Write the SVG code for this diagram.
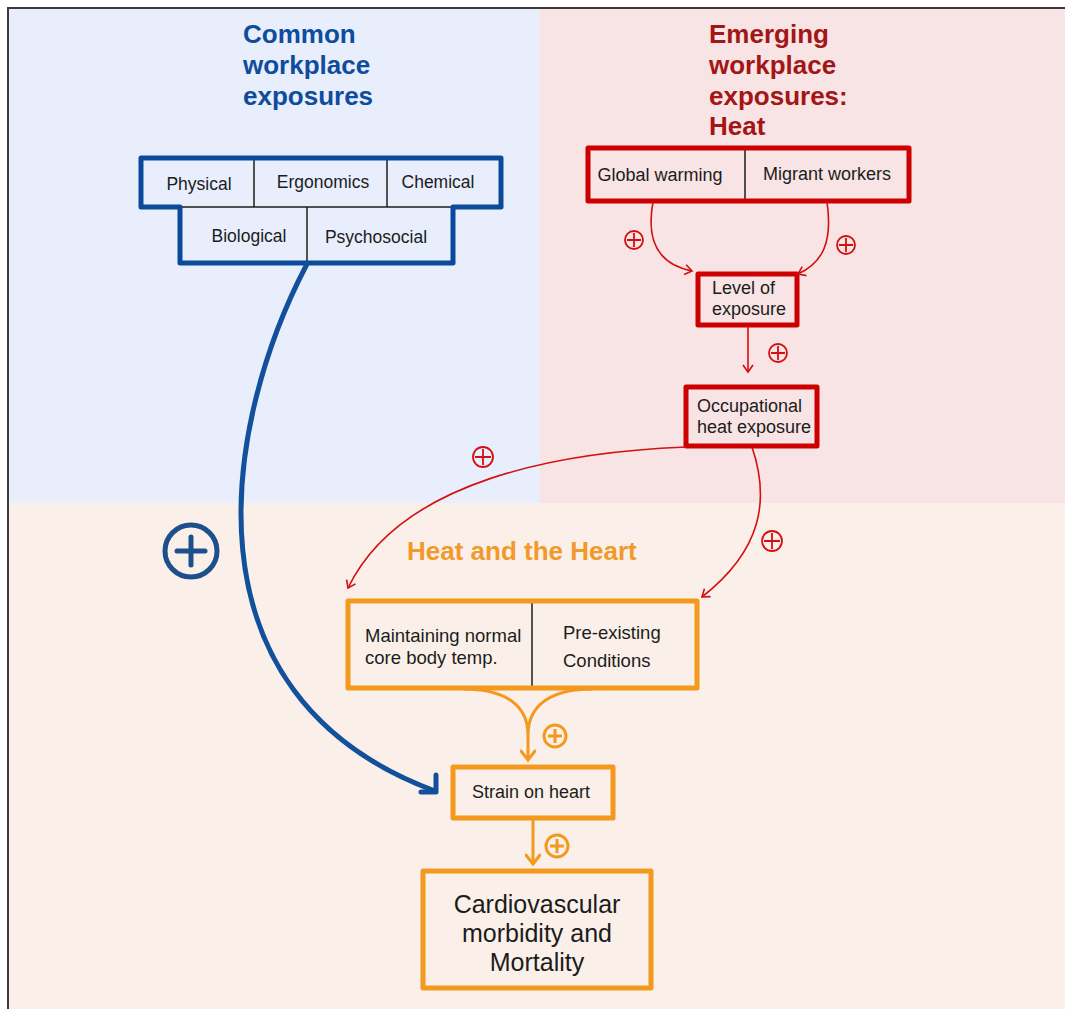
<svg xmlns="http://www.w3.org/2000/svg" width="1065" height="1009" viewBox="0 0 1065 1009">
<defs>
<style>
text{font-family:"Liberation Sans",Arial,sans-serif;fill:#1c1c1c}
.t{font-size:17.5px}
.t18{font-size:18px}
.title{font-size:26px;font-weight:bold}
.blue{fill:#0f4c9c}
.red{fill:#a31616}
.orange{fill:#f2992a}
.bbox{fill:none;stroke:#0b4a9b;stroke-width:5;stroke-linejoin:round}
.rbox{fill:none;stroke:#cc0000;stroke-width:5;stroke-linejoin:round}
.obox{fill:none;stroke:#f39a1e;stroke-width:5;stroke-linejoin:round}
.div{stroke:#1c1c1c;stroke-width:1.5}
.rline{fill:none;stroke:#d40f0f;stroke-width:1.6}
.oline{fill:none;stroke:#f39a1e;stroke-width:3}
.bline{fill:none;stroke:#13509b;stroke-width:5;stroke-linecap:round;stroke-linejoin:round}
.rplus{fill:none;stroke:#d40f0f;stroke-width:1.8}
.oplus{fill:none;stroke:#f39a1e;stroke-width:3}
.bplus{fill:none;stroke:#1c4f8c;stroke-width:5;stroke-linecap:round}
</style>
<marker id="arrR" viewBox="0 0 12 12" refX="10" refY="6" markerWidth="12" markerHeight="12" markerUnits="userSpaceOnUse" orient="auto">
<path d="M3,1 L10,6 L3,11" fill="none" stroke="#d40f0f" stroke-width="1.6"/>
</marker>
<marker id="arrO" viewBox="0 0 16 16" refX="13" refY="8" markerWidth="16" markerHeight="16" markerUnits="userSpaceOnUse" orient="auto">
<path d="M4,1 L13,8 L4,15" fill="none" stroke="#f39a1e" stroke-width="3" stroke-linecap="round"/>
</marker>
</defs>
<rect x="0" y="0" width="1065" height="1009" fill="#ffffff"/>
<rect x="9" y="9" width="531" height="494" fill="#e8eefc"/>
<rect x="540" y="9" width="525" height="494" fill="#f8e4e4"/>
<rect x="9" y="503" width="1056" height="506" fill="#faf0e9"/>
<path d="M8,1009 V8 H1065" fill="none" stroke="#3a3a3a" stroke-width="2"/>

<g id="titles">
<text class="title blue" x="243" y="43">Common</text>
<text class="title blue" x="243" y="74">workplace</text>
<text class="title blue" x="243" y="105">exposures</text>
<text class="title red" x="709" y="43">Emerging</text>
<text class="title red" x="709" y="74">workplace</text>
<text class="title red" x="709" y="105">exposures:</text>
<text class="title red" x="709" y="135">Heat</text>
<text class="title orange" x="407" y="560">Heat and the Heart</text>
</g>

<g id="common-exposures">
<line class="div" x1="180" y1="207" x2="453" y2="207"/>
<line class="div" x1="254" y1="158" x2="254" y2="207"/>
<line class="div" x1="387" y1="158" x2="387" y2="207"/>
<line class="div" x1="307" y1="207" x2="307" y2="263"/>
<path class="bbox" d="M141,158 H501 V207 H453 V263 H180 V207 H141 Z"/>
<text class="t" x="199" y="190" text-anchor="middle">Physical</text>
<text class="t" x="323" y="188" text-anchor="middle">Ergonomics</text>
<text class="t" x="438" y="188" text-anchor="middle">Chemical</text>
<text class="t" x="249" y="242" text-anchor="middle">Biological</text>
<text class="t" x="376" y="243" text-anchor="middle">Psychosocial</text>
</g>

<g id="heat-drivers">
<line class="div" x1="745" y1="148" x2="745" y2="201"/>
<rect class="rbox" x="588" y="148" width="321" height="53"/>
<text class="t18" x="660" y="181" text-anchor="middle">Global warming</text>
<text class="t18" x="827" y="180" text-anchor="middle">Migrant workers</text>
</g>

<g id="level-of-exposure">
<rect class="rbox" x="698" y="274" width="99" height="51"/>
<text class="t18" x="712" y="294">Level of</text>
<text class="t18" x="712" y="315">exposure</text>
</g>

<g id="occupational-heat">
<rect class="rbox" x="686" y="387" width="131" height="59"/>
<text class="t18" x="697" y="412">Occupational</text>
<text class="t18" x="697" y="433">heat exposure</text>
</g>

<g id="heat-heart">
<line class="div" x1="532" y1="601" x2="532" y2="688"/>
<rect class="obox" x="348" y="601" width="349" height="87"/>
<text style="font-size:18.5px" x="365" y="642">Maintaining normal</text>
<text style="font-size:18.5px" x="365" y="664">core body temp.</text>
<text style="font-size:18.5px" x="563" y="639">Pre-existing</text>
<text style="font-size:18.5px" x="563" y="667">Conditions</text>
</g>

<g id="strain-on-heart">
<rect class="obox" x="453" y="767" width="160" height="51"/>
<text class="t18" x="531" y="798" text-anchor="middle">Strain on heart</text>
</g>

<g id="cardio">
<rect class="obox" x="423" y="871" width="228" height="117"/>
<text style="font-size:25px" x="537" y="913" text-anchor="middle">Cardiovascular</text>
<text style="font-size:25px" x="537" y="942" text-anchor="middle">morbidity and</text>
<text style="font-size:25px" x="537" y="971" text-anchor="middle">Mortality</text>
</g>

<g id="connectors">
<path class="rline" d="M653,202 C645,245 662,265 692,271" marker-end="url(#arrR)"/>
<path class="rline" d="M827,202 C833,243 822,263 798,274" marker-end="url(#arrR)"/>
<path class="rline" d="M748,326 L748,372" marker-end="url(#arrR)"/>
<path class="rline" d="M686,447 C560,452 400,480 348,588" marker-end="url(#arrR)"/>
<path class="rline" d="M752,447 C770,500 762,550 702,597" marker-end="url(#arrR)"/>
<path class="oline" d="M463,689 C505,689 528,705 528,735 M593,689 C551,689 528,705 528,735 L528,760" marker-end="url(#arrO)"/>
<path class="oline" d="M533,819 L533,864" marker-end="url(#arrO)"/>
<path class="bline" d="M307,264 C225,420 175,695 435,791"/>
<path class="bline" d="M436,775 L436,792 L421,792"/>
</g>

<g id="signs">
<circle class="rplus" cx="634" cy="240" r="9"/><path class="rplus" d="M627,240 H641 M634,233 V247"/>
<circle class="rplus" cx="846" cy="245" r="9"/><path class="rplus" d="M839,245 H853 M846,238 V252"/>
<circle class="rplus" cx="778" cy="353" r="9"/><path class="rplus" d="M771,353 H785 M778,346 V360"/>
<circle class="rplus" cx="483" cy="457" r="10"/><path class="rplus" d="M475,457 H491 M483,449 V465"/>
<circle class="rplus" cx="772" cy="541" r="10"/><path class="rplus" d="M764,541 H780 M772,533 V549"/>
<circle class="oplus" cx="555" cy="736" r="11"/><path class="oplus" d="M548,736 H562 M555,729 V743"/>
<circle class="oplus" cx="557" cy="846" r="11"/><path class="oplus" d="M550,846 H564 M557,839 V853"/>
<circle class="bplus" cx="191" cy="551" r="26"/><path class="bplus" d="M177,551 H205 M191,537 V565"/>
</g>
</svg>
